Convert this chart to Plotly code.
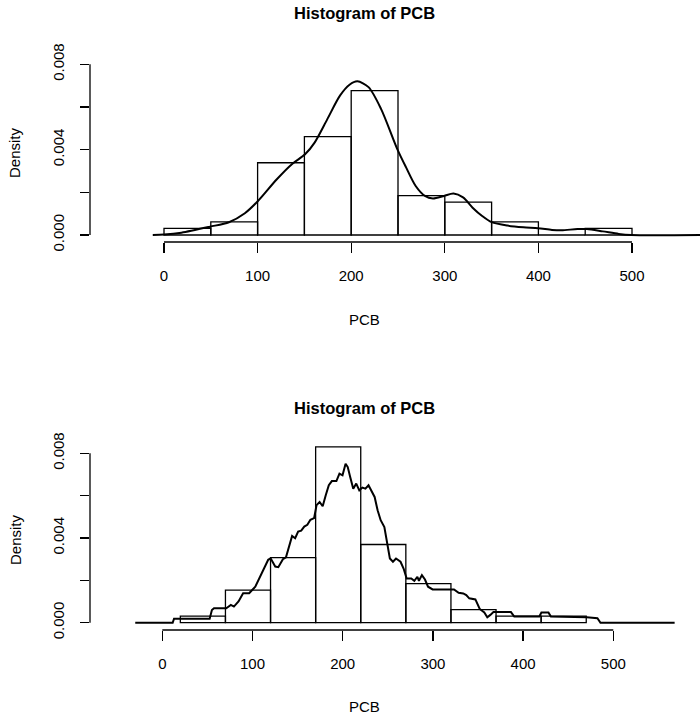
import plotly.graph_objects as go

# ---------------- data ----------------
top_breaks = [0, 50, 100, 150, 200, 250, 300, 350, 400, 450, 500]
top_density = [0.000308, 0.000615, 0.003385, 0.004615, 0.006769,
               0.001846, 0.001538, 0.000615, 0.0, 0.000308]

top_kde_x = [-12, 0, 18.6, 49.1, 69.4, 86.4, 99.9, 120.3, 137.2, 150.7,
             160.9, 174.5, 188, 198.2, 206.6, 218.5, 232, 249, 258.5, 268.7,
             278.8, 287.3, 299.2, 309.3, 319.5, 329.7, 339.9, 350.1, 367, 384,
             399.6, 414.5, 424.7, 441.7, 451.9, 468.8, 485.8, 499.3, 573]
top_kde_y = [0, 0.00002, 0.00011, 0.00039, 0.0006, 0.00102, 0.00157, 0.0026, 0.00334, 0.00378,
             0.00433, 0.00543, 0.00653, 0.00704, 0.0072, 0.00693, 0.0059, 0.00405, 0.00318, 0.00231,
             0.00183, 0.00171, 0.00183, 0.00194, 0.00176, 0.00128, 0.00089, 0.0006, 0.00044, 0.00036,
             0.00032, 0.00024, 0.00022, 0.00028, 0.00028, 0.00017, 0.00005, 0.0, 0.0]

bot_breaks = [20, 70, 120, 170, 220, 270, 320, 370, 420, 470]
bot_density = [0.000308, 0.001538, 0.003077, 0.008308, 0.003692,
               0.001846, 0.000615, 0.000308, 0.000308]

bot_kde_x = [-30, 11.5, 13, 52.5, 55, 57.3, 70.9, 76, 79.4, 84.5,
             89.6, 96.3, 103.1, 108.2, 113.3, 117.4, 120.1, 125.2, 128.6, 133.7,
             137.1, 143.9, 147.3, 150.6, 154, 157.4, 160.8, 164.2, 168.3, 171,
             174.4, 177.8, 181.2, 184.6, 188, 193, 196.4, 199.8, 203.2, 205.6,
             208.3, 211.7, 215, 218.4, 221.8, 225.2, 228.6, 232, 235.4, 238.7,
             242.1, 246.2, 248.9, 252.3, 255.7, 259.1, 264.1, 267.5, 270.9, 276,
             279.4, 282.8, 284.5, 287.8, 291.2, 294.6, 299.7, 323.4, 328.5, 333.6,
             337, 340.3, 347.1, 351.9, 357, 360.3, 363.7, 367.1, 386.5, 390.2,
             418, 420.3, 428.1, 430.8, 470.5, 482.4, 485.8, 568]
bot_kde_y = [0, 0, 0.00019, 0.00019, 0.0006, 0.00068, 0.00068, 0.00084, 0.00076, 0.001,
             0.00139, 0.00139, 0.0017, 0.00218, 0.00265, 0.00297, 0.00304, 0.00265, 0.00262, 0.003,
             0.00309, 0.0041, 0.00399, 0.0043, 0.00435, 0.00454, 0.00462, 0.00486, 0.00494, 0.00555,
             0.0057, 0.0055, 0.00602, 0.00649, 0.00669, 0.00669, 0.00704, 0.00696, 0.00751, 0.00735,
             0.00688, 0.00633, 0.00657, 0.00625, 0.00638, 0.00633, 0.00649, 0.00625, 0.00594, 0.00531,
             0.00484, 0.00452, 0.0039, 0.00303, 0.00288, 0.00303, 0.00288, 0.00256, 0.00209, 0.00209,
             0.00198, 0.00217, 0.00198, 0.00225, 0.00204, 0.0017, 0.00157, 0.00157, 0.00141, 0.00138,
             0.0013, 0.00115, 0.0011, 0.00065, 0.00048, 0.00026, 0.00037, 0.0005, 0.0005, 0.00029,
             0.00029, 0.00048, 0.00048, 0.00029, 0.00026, 0.00021, 0, 0]

x_ticks = [0, 100, 200, 300, 400, 500]
y_ticks = [0, 0.002, 0.004, 0.006, 0.008]
y_ticktext = ["0.000", "", "0.004", "", "0.008"]

title_text = "Histogram of PCB"
x_title = "PCB"
y_title = "Density"

assert len(top_kde_x) == len(top_kde_y)
assert len(bot_kde_x) == len(bot_kde_y)

# ---------------- figure ----------------
W, H = 700, 719
FONT = "Liberation Sans, Arial, Helvetica, sans-serif"
TICKFONT = 15
LW_BAR = 1.3
LW_CURVE = 2.0


def mids(b):
    return [(b[i] + b[i + 1]) / 2 for i in range(len(b) - 1)]


def widths(b):
    return [b[i + 1] - b[i] for i in range(len(b) - 1)]


fig = go.Figure()
fig.add_trace(go.Bar(x=mids(top_breaks), y=top_density, width=widths(top_breaks),
                     marker=dict(color="rgba(0,0,0,0)", line=dict(color="black", width=LW_BAR)),
                     xaxis="x", yaxis="y", hoverinfo="skip"))
fig.add_trace(go.Scatter(x=top_kde_x, y=top_kde_y, mode="lines",
                         line=dict(color="black", width=LW_CURVE, shape="spline", smoothing=0.8),
                         xaxis="x", yaxis="y", hoverinfo="skip", cliponaxis=False))
fig.add_trace(go.Bar(x=mids(bot_breaks), y=bot_density, width=widths(bot_breaks),
                     marker=dict(color="rgba(0,0,0,0)", line=dict(color="black", width=LW_BAR)),
                     xaxis="x2", yaxis="y2", hoverinfo="skip"))
fig.add_trace(go.Scatter(x=bot_kde_x, y=bot_kde_y, mode="lines",
                         line=dict(color="black", width=LW_CURVE),
                         xaxis="x2", yaxis="y2", hoverinfo="skip"))


def panel(x0px, x500px, y0px, y8px, axis_bottom_px, top_px, left_px=90, right_px=700):
    sx = (x500px - x0px) / 500.0
    sy = (y0px - y8px) / 0.008
    xr = [(left_px - x0px) / sx, (right_px - x0px) / sx]
    yr = [-(axis_bottom_px - y0px) / sy, (y0px - top_px) / sy]
    xd = [left_px / W, right_px / W]
    yd = [1 - axis_bottom_px / H, 1 - top_px / H]
    return xr, yr, xd, yd


xr1, yr1, xd1, yd1 = panel(164, 632, 235, 64.3, 242, 40)
xr2, yr2, xd2, yd2 = panel(162.3, 613.3, 622.7, 453.3, 630, 428)

common_x = dict(tickvals=x_ticks, ticktext=[str(v) for v in x_ticks], ticks="outside", ticklen=10,
                tickwidth=LW_BAR, tickcolor="black", showgrid=False, zeroline=False, showline=False,
                tickfont=dict(family=FONT, size=TICKFONT, color="black"), fixedrange=True,
                ticklabelstandoff=10, automargin=False)
common_y = dict(tickvals=y_ticks, ticktext=y_ticktext, ticks="outside", ticklen=9, tickangle=-90,
                tickwidth=LW_BAR, tickcolor="black", showgrid=False, zeroline=False, showline=False,
                tickfont=dict(family=FONT, size=TICKFONT, color="black"), fixedrange=True,
                ticklabelstandoff=10, automargin=False)

fig.update_layout(
    width=W, height=H,
    margin=dict(l=0, r=0, t=0, b=0, autoexpand=False),
    paper_bgcolor="white", plot_bgcolor="white",
    showlegend=False, barmode="overlay",
    xaxis=dict(domain=xd1, range=xr1, anchor="y", **common_x),
    yaxis=dict(domain=yd1, range=yr1, anchor="x", **common_y),
    xaxis2=dict(domain=xd2, range=xr2, anchor="y2", **common_x),
    yaxis2=dict(domain=yd2, range=yr2, anchor="x2", **common_y),
)

shapes = []
for xa, ya in (("x", "y"), ("x2", "y2")):
    shapes.append(dict(type="line", xref=xa, yref=ya + " domain", x0=x_ticks[0], x1=x_ticks[-1],
                       y0=0, y1=0, line=dict(color="black", width=LW_BAR)))
    shapes.append(dict(type="line", xref=xa + " domain", yref=ya, x0=0, x1=0,
                       y0=y_ticks[0], y1=y_ticks[-1], line=dict(color="black", width=LW_BAR)))
fig.update_layout(shapes=shapes)

ann = []
for (cx, ty, xy, yy) in ((364.5, 13, 319, 153), (364.5, 408, 706, 540)):
    ann.append(dict(text="<b>%s</b>" % title_text, x=cx / W, y=1 - ty / H, xref="paper", yref="paper",
                    showarrow=False, xanchor="center", yanchor="middle",
                    font=dict(family=FONT, size=16.5, color="black")))
    ann.append(dict(text=x_title, x=cx / W, y=1 - xy / H, xref="paper", yref="paper",
                    showarrow=False, xanchor="center", yanchor="middle",
                    font=dict(family=FONT, size=TICKFONT, color="black")))
    ann.append(dict(text=y_title, x=15 / W, y=1 - yy / H, xref="paper", yref="paper", textangle=-90,
                    showarrow=False, xanchor="center", yanchor="middle",
                    font=dict(family=FONT, size=TICKFONT, color="black")))
fig.update_layout(annotations=ann)

fig.write_html("out.html", config={"displayModeBar": False, "staticPlot": True},
               post_script="document.body.style.margin='0';document.body.style.padding='0';"
                           "document.documentElement.style.overflow='hidden';")
